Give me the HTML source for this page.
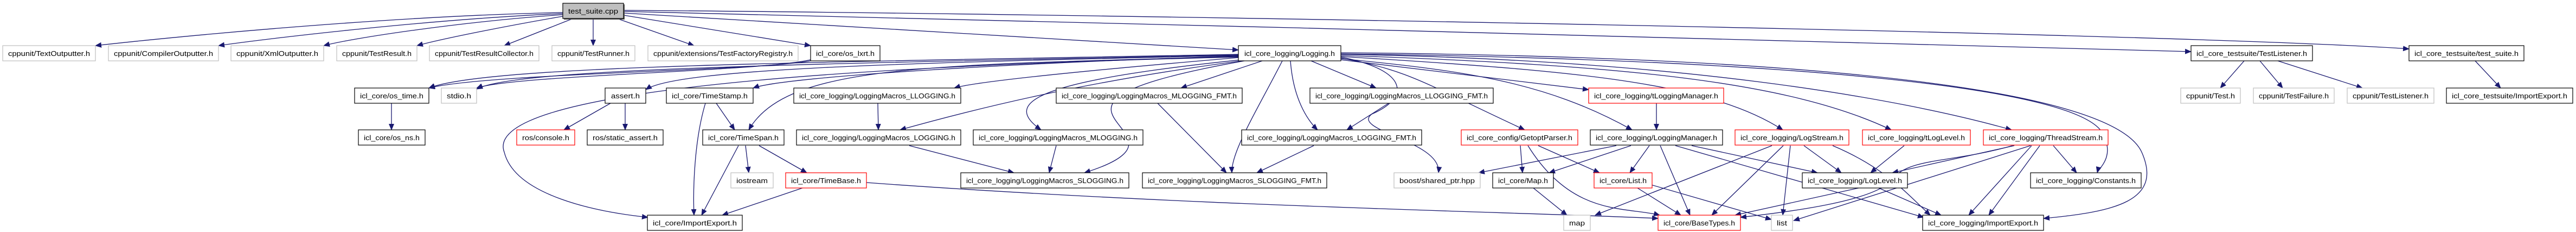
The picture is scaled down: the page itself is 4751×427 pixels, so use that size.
<!DOCTYPE html>
<html><head><meta charset="utf-8"><style>
html,body{margin:0;padding:0;background:#fff;}
svg{display:block;}
text{font-family:"Liberation Sans",sans-serif;font-size:13px;fill:#000;}
.e{fill:none;stroke:#191970;stroke-width:1.3;marker-end:url(#a);}
.b{fill:#fff;stroke:#000;stroke-width:1.2;}
.g{fill:#fff;stroke:#bfbfbf;stroke-width:1.2;}
.r{fill:#fff;stroke:#ff0000;stroke-width:1.2;}
.s{fill:#555;}
</style></head><body>
<svg width="4751" height="427" viewBox="0 0 4751 427" xmlns="http://www.w3.org/2000/svg">
<defs><marker id="a" markerUnits="userSpaceOnUse" markerWidth="12" markerHeight="10" refX="11" refY="5" orient="auto"><path d="M0,0 L12,5 L0,10 z" fill="#191970"/></marker></defs>
<g>
<path class="e" d="M1038,23 C700,30 300,70 176,84"/>
<path class="e" d="M1038,25 C800,35 500,70 403,84"/>
<path class="e" d="M1038,27 C850,40 650,70 597,84"/>
<path class="e" d="M1038,30 C950,45 820,70 769,84"/>
<path class="e" d="M1057,34 L930,84"/>
<path class="e" d="M1094,34 L1094,84"/>
<path class="e" d="M1138,34 L1280,84"/>
<path class="e" d="M1150,28 L1495,84"/>
<path class="e" d="M1150,24 L2284,92"/>
<path class="e" d="M1150,21 C2000,40 3500,80 4041,95"/>
<path class="e" d="M1150,19 C2000,25 4000,60 4443,90"/>
<path class="e" d="M1495,112 C1400,130 900,135 791,162"/>
<path class="e" d="M1495,110 C1400,132 950,138 879,162"/>
<path class="e" d="M2284,100 C1500,115 900,120 791,162"/>
<path class="e" d="M2284,101 C1500,118 950,125 879,164"/>
<path class="e" d="M2284,102 C1700,115 1250,125 1191,165"/>
<path class="e" d="M2284,103 C1900,115 1450,140 1389,162"/>
<path class="e" d="M2284,104 C1700,120 1450,120 1381,239"/>
<path class="e" d="M2284,105 C1200,130 900,200 930,280 C950,360 1100,390 1195,400"/>
<path class="e" d="M2284,106 C2000,130 1800,150 1760,162"/>
<path class="e" d="M2290,112 C2000,150 1800,200 1660,239"/>
<path class="e" d="M2290,110 C1900,150 1850,190 1920,239"/>
<path class="e" d="M2295,112 C1800,200 2250,240 2000,318"/>
<path class="e" d="M2328,112 L2178,162"/>
<path class="e" d="M2365,112 C2320,200 2270,280 2272,318"/>
<path class="e" d="M2380,112 C2385,180 2410,220 2430,239"/>
<path class="e" d="M2418,112 L2538,162"/>
<path class="e" d="M2473,105 C2600,130 2600,180 2530,210 C2490,240 2660,260 2653,318"/>
<path class="e" d="M2473,107 C2600,130 2620,150 2812,239"/>
<path class="e" d="M2473,108 C2700,130 2850,150 3010,239"/>
<path class="e" d="M2473,110 L2930,165"/>
<path class="e" d="M2473,104 C2900,130 3150,150 3288,239"/>
<path class="e" d="M2473,102 C3000,120 3300,150 3488,239"/>
<path class="e" d="M2473,100 C3100,110 3500,180 3710,239"/>
<path class="e" d="M2473,99 C3300,110 3850,160 3880,250 C3900,290 3870,310 3868,318"/>
<path class="e" d="M2473,97 C3400,105 3900,170 3950,280 C3990,370 3900,390 3769,402"/>
<path class="e" d="M722,190 L722,239"/>
<path class="e" d="M1126,190 L1040,239"/>
<path class="e" d="M1153,190 L1153,239"/>
<path class="e" d="M1301,190 C1280,260 1278,350 1280,396"/>
<path class="e" d="M1321,190 L1355,239"/>
<path class="e" d="M1362,268 L1294,396"/>
<path class="e" d="M1375,268 L1381,318"/>
<path class="e" d="M1400,268 L1488,318"/>
<path class="e" d="M1480,346 L1332,396"/>
<path class="e" d="M1598,336 C2200,380 2800,390 3058,402"/>
<path class="e" d="M1619,190 L1620,239"/>
<path class="e" d="M1677,268 L1870,318"/>
<path class="e" d="M1948,268 L1935,318"/>
<path class="e" d="M2135,190 L2262,318"/>
<path class="e" d="M2423,268 L2318,318"/>
<path class="e" d="M2561,190 L2484,239"/>
<path class="e" d="M3055,190 L3055,239"/>
<path class="e" d="M2804,268 L2808,318"/>
<path class="e" d="M2818,268 C2900,400 3000,380 3061,396"/>
<path class="e" d="M2837,268 L2950,318"/>
<path class="e" d="M2981,268 L2727,318"/>
<path class="e" d="M3008,268 L2857,318"/>
<path class="e" d="M3042,268 L3006,318"/>
<path class="e" d="M3062,268 L3117,396"/>
<path class="e" d="M3120,268 L3352,318"/>
<path class="e" d="M3090,268 L3548,400"/>
<path class="e" d="M3268,268 L2942,396"/>
<path class="e" d="M3289,268 L3157,396"/>
<path class="e" d="M3302,268 L3288,396"/>
<path class="e" d="M3327,268 L3396,318"/>
<path class="e" d="M3380,268 C3480,310 3520,360 3560,396"/>
<path class="e" d="M3512,268 L3450,318"/>
<path class="e" d="M3715,268 L3490,318"/>
<path class="e" d="M3712,268 C3600,300 3520,290 3490,330 C3460,370 3300,390 3210,400"/>
<path class="e" d="M3745,268 L3308,406"/>
<path class="e" d="M3747,268 L3631,396"/>
<path class="e" d="M3762,268 L3668,396"/>
<path class="e" d="M3787,268 L3830,318"/>
<path class="e" d="M3428,346 L3200,396"/>
<path class="e" d="M3465,346 L3580,396"/>
<path class="e" d="M3020,346 L3100,396"/>
<path class="e" d="M3045,340 L3267,404"/>
<path class="e" d="M2828,346 L2890,396"/>
<path class="e" d="M4139,112 L4095,162"/>
<path class="e" d="M4168,112 L4210,162"/>
<path class="e" d="M4201,112 L4357,162"/>
<path class="e" d="M4565,112 L4612,162"/>
</g>
<g text-anchor="middle">
<rect class="s" x="1040" y="8" width="112" height="28"/><rect x="1038" y="6" width="112" height="28" fill="#bfbfbf" stroke="#000" stroke-width="1.2"/><text x="1094" y="25" textLength="92" lengthAdjust="spacingAndGlyphs">test_suite.cpp</text>
<rect class="g" x="5" y="84" width="171" height="28"/><text x="90.5" y="103" textLength="151" lengthAdjust="spacingAndGlyphs">cppunit/TextOutputter.h</text>
<rect class="g" x="200" y="84" width="203" height="28"/><text x="301.5" y="103" textLength="183" lengthAdjust="spacingAndGlyphs">cppunit/CompilerOutputter.h</text>
<rect class="g" x="426" y="84" width="171" height="28"/><text x="511.5" y="103" textLength="151" lengthAdjust="spacingAndGlyphs">cppunit/XmlOutputter.h</text>
<rect class="g" x="621" y="84" width="148" height="28"/><text x="695" y="103" textLength="128" lengthAdjust="spacingAndGlyphs">cppunit/TestResult.h</text>
<rect class="g" x="792" y="84" width="202" height="28"/><text x="893" y="103" textLength="182" lengthAdjust="spacingAndGlyphs">cppunit/TestResultCollector.h</text>
<rect class="g" x="1018" y="84" width="153" height="28"/><text x="1094.5" y="103" textLength="133" lengthAdjust="spacingAndGlyphs">cppunit/TestRunner.h</text>
<rect class="g" x="1195" y="84" width="277" height="28"/><text x="1333.5" y="103" textLength="257" lengthAdjust="spacingAndGlyphs">cppunit/extensions/TestFactoryRegistry.h</text>
<rect class="b" x="1495" y="84" width="128" height="28"/><text x="1559" y="103" textLength="108" lengthAdjust="spacingAndGlyphs">icl_core/os_lxrt.h</text>
<rect class="b" x="2284" y="84" width="189" height="28"/><text x="2378.5" y="103" textLength="167" lengthAdjust="spacingAndGlyphs">icl_core_logging/Logging.h</text>
<rect class="b" x="4041" y="84" width="224" height="28"/><text x="4153" y="103" textLength="204" lengthAdjust="spacingAndGlyphs">icl_core_testsuite/TestListener.h</text>
<rect class="b" x="4443" y="84" width="212" height="28"/><text x="4549" y="103" textLength="192" lengthAdjust="spacingAndGlyphs">icl_core_testsuite/test_suite.h</text>

<rect class="b" x="654" y="162" width="137" height="28"/><text x="722.5" y="181" textLength="117" lengthAdjust="spacingAndGlyphs">icl_core/os_time.h</text>
<rect class="g" x="814" y="162" width="65" height="28"/><text x="846.5" y="181" textLength="45" lengthAdjust="spacingAndGlyphs">stdio.h</text>
<rect class="b" x="1116" y="162" width="75" height="28"/><text x="1153.5" y="181" textLength="53" lengthAdjust="spacingAndGlyphs">assert.h</text>
<rect class="b" x="1229" y="162" width="160" height="28"/><text x="1309" y="181" textLength="140" lengthAdjust="spacingAndGlyphs">icl_core/TimeStamp.h</text>
<rect class="b" x="1464" y="162" width="308" height="28"/><text x="1618" y="181" textLength="288" lengthAdjust="spacingAndGlyphs">icl_core_logging/LoggingMacros_LLOGGING.h</text>
<rect class="b" x="1948" y="162" width="343" height="28"/><text x="2119.5" y="181" textLength="323" lengthAdjust="spacingAndGlyphs">icl_core_logging/LoggingMacros_MLOGGING_FMT.h</text>
<rect class="b" x="2416" y="162" width="338" height="28"/><text x="2585" y="181" textLength="318" lengthAdjust="spacingAndGlyphs">icl_core_logging/LoggingMacros_LLOGGING_FMT.h</text>
<rect class="r" x="2930" y="162" width="249" height="28"/><text x="3054.5" y="181" textLength="229" lengthAdjust="spacingAndGlyphs">icl_core_logging/tLoggingManager.h</text>
<rect class="g" x="4022" y="162" width="110" height="28"/><text x="4077" y="181" textLength="90" lengthAdjust="spacingAndGlyphs">cppunit/Test.h</text>
<rect class="g" x="4156" y="162" width="149" height="28"/><text x="4230.5" y="181" textLength="129" lengthAdjust="spacingAndGlyphs">cppunit/TestFailure.h</text>
<rect class="g" x="4329" y="162" width="160" height="28"/><text x="4409" y="181" textLength="140" lengthAdjust="spacingAndGlyphs">cppunit/TestListener.h</text>
<rect class="b" x="4512" y="162" width="233" height="28"/><text x="4628.5" y="181" textLength="213" lengthAdjust="spacingAndGlyphs">icl_core_testsuite/ImportExport.h</text>

<rect class="b" x="661" y="239" width="123" height="28"/><text x="722.5" y="258" textLength="103" lengthAdjust="spacingAndGlyphs">icl_core/os_ns.h</text>
<rect class="r" x="953" y="239" width="107" height="28"/><text x="1006.5" y="258" textLength="87" lengthAdjust="spacingAndGlyphs">ros/console.h</text>
<rect class="b" x="1083" y="239" width="140" height="28"/><text x="1153" y="258" textLength="120" lengthAdjust="spacingAndGlyphs">ros/static_assert.h</text>
<rect class="b" x="1296" y="239" width="150" height="28"/><text x="1371" y="258" textLength="130" lengthAdjust="spacingAndGlyphs">icl_core/TimeSpan.h</text>
<rect class="b" x="1469" y="239" width="303" height="28"/><text x="1620.5" y="258" textLength="283" lengthAdjust="spacingAndGlyphs">icl_core_logging/LoggingMacros_LOGGING.h</text>
<rect class="b" x="1795" y="239" width="313" height="28"/><text x="1951.5" y="258" textLength="293" lengthAdjust="spacingAndGlyphs">icl_core_logging/LoggingMacros_MLOGGING.h</text>
<rect class="b" x="2290" y="239" width="332" height="28"/><text x="2456" y="258" textLength="312" lengthAdjust="spacingAndGlyphs">icl_core_logging/LoggingMacros_LOGGING_FMT.h</text>
<rect class="r" x="2695" y="239" width="215" height="28"/><text x="2802.5" y="258" textLength="195" lengthAdjust="spacingAndGlyphs">icl_core_config/GetoptParser.h</text>
<rect class="b" x="2933" y="239" width="244" height="28"/><text x="3055" y="258" textLength="224" lengthAdjust="spacingAndGlyphs">icl_core_logging/LoggingManager.h</text>
<rect class="r" x="3200" y="239" width="210" height="28"/><text x="3305" y="258" textLength="190" lengthAdjust="spacingAndGlyphs">icl_core_logging/LogStream.h</text>
<rect class="r" x="3435" y="239" width="199" height="28"/><text x="3534.5" y="258" textLength="179" lengthAdjust="spacingAndGlyphs">icl_core_logging/tLogLevel.h</text>
<rect class="r" x="3658" y="239" width="230" height="28"/><text x="3773" y="258" textLength="210" lengthAdjust="spacingAndGlyphs">icl_core_logging/ThreadStream.h</text>

<rect class="g" x="1348" y="318" width="78" height="28"/><text x="1387" y="337" textLength="58" lengthAdjust="spacingAndGlyphs">iostream</text>
<rect class="r" x="1449" y="318" width="149" height="28"/><text x="1523.5" y="337" textLength="129" lengthAdjust="spacingAndGlyphs">icl_core/TimeBase.h</text>
<rect class="b" x="1772" y="318" width="310" height="28"/><text x="1927" y="337" textLength="290" lengthAdjust="spacingAndGlyphs">icl_core_logging/LoggingMacros_SLOGGING.h</text>
<rect class="b" x="2107" y="318" width="340" height="28"/><text x="2277" y="337" textLength="320" lengthAdjust="spacingAndGlyphs">icl_core_logging/LoggingMacros_SLOGGING_FMT.h</text>
<rect class="g" x="2571" y="318" width="159" height="28"/><text x="2650.5" y="337" textLength="139" lengthAdjust="spacingAndGlyphs">boost/shared_ptr.hpp</text>
<rect class="b" x="2753" y="318" width="112" height="28"/><text x="2809" y="337" textLength="92" lengthAdjust="spacingAndGlyphs">icl_core/Map.h</text>
<rect class="r" x="2940" y="318" width="107" height="28"/><text x="2993.5" y="337" textLength="87" lengthAdjust="spacingAndGlyphs">icl_core/List.h</text>
<rect class="b" x="3324" y="318" width="194" height="28"/><text x="3421" y="337" textLength="174" lengthAdjust="spacingAndGlyphs">icl_core_logging/LogLevel.h</text>
<rect class="b" x="3745" y="318" width="204" height="28"/><text x="3847" y="337" textLength="184" lengthAdjust="spacingAndGlyphs">icl_core_logging/Constants.h</text>

<rect class="b" x="1194" y="396" width="175" height="28"/><text x="1281.5" y="415" textLength="155" lengthAdjust="spacingAndGlyphs">icl_core/ImportExport.h</text>
<rect class="g" x="2884" y="396" width="49" height="28"/><text x="2908.5" y="415" textLength="29" lengthAdjust="spacingAndGlyphs">map</text>
<rect class="r" x="3058" y="396" width="152" height="28"/><text x="3134" y="415" textLength="132" lengthAdjust="spacingAndGlyphs">icl_core/BaseTypes.h</text>
<rect class="g" x="3267" y="396" width="39" height="28"/><text x="3286.5" y="415" textLength="19" lengthAdjust="spacingAndGlyphs">list</text>
<rect class="b" x="3546" y="396" width="223" height="28"/><text x="3657.5" y="415" textLength="203" lengthAdjust="spacingAndGlyphs">icl_core_logging/ImportExport.h</text>
</g>
</svg>
</body></html>
